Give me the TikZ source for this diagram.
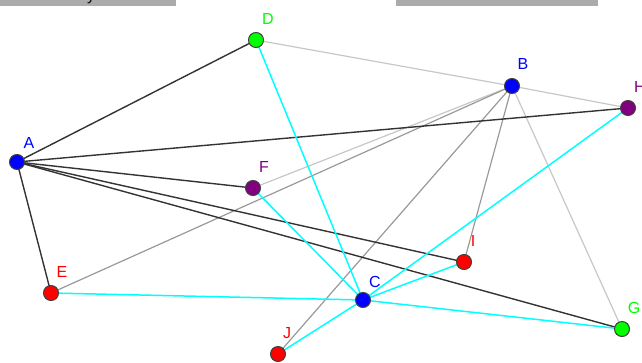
\documentclass[tikz,border=0pt]{standalone}
\usepackage{fontspec}
\setmainfont{Liberation Sans}
\begin{document}
\begin{tikzpicture}[x=1pt,y=-1pt,
  pt/.style={circle,draw=black!75,line width=1pt,inner sep=0pt,minimum size=15pt},
  lab/.style={font=\fontsize{16}{16}\selectfont,inner sep=0pt},
  blk/.style={draw=black!80,line width=1.4pt},
  cyn/.style={draw=cyanx,line width=1.5pt},
  gra/.style={draw=black!40,line width=1.2pt},
  lgr/.style={draw=black!22,line width=1.2pt}]
\definecolor{cyanx}{RGB}{0,255,255}
\definecolor{pur}{RGB}{128,0,128}
\definecolor{grn}{RGB}{0,255,0}
\useasboundingbox (0,0) rectangle (642,362);
% top bars
\fill[black!33] (0,0) rectangle (176,6);
\fill[black!33] (396,0) rectangle (598,6);
\begin{scope}
\clip (0,0) rectangle (176,6);
\node[lab,text=black,anchor=base] (ytxt) at (91,0) {y};
\end{scope}
% coordinates
\coordinate (A) at (17,162);
\coordinate (D) at (256,40);
\coordinate (B) at (512,86);
\coordinate (H) at (628,108);
\coordinate (F) at (253,188);
\coordinate (E) at (51,293);
\coordinate (I) at (464,262);
\coordinate (C) at (363,300);
\coordinate (G) at (622,329);
\coordinate (J) at (278,354);
% gray edges
\draw[lgr] (D) -- (B);
\draw[lgr] (B) -- (H);
\draw[lgr] (B) -- (F);
\draw[lgr] (B) -- (G);
\draw[gra] (B) -- (E);
\draw[gra] (B) -- (J);
\draw[gra] (B) -- (I);
% black edges
\draw[blk] (A) -- (D);
\draw[blk] (A) -- (H);
\draw[blk] (A) -- (F);
\draw[blk] (A) -- (I);
\draw[blk] (A) -- (G);
\draw[blk] (A) -- (E);
% cyan edges
\draw[cyn] (D) -- (C);
\draw[cyn] (H) -- (C);
\draw[cyn] (F) -- (C);
\draw[cyn] (E) -- (C);
\draw[cyn] (C) -- (G);
\draw[cyn] (C) -- (I);
\draw[cyn] (C) -- (J);
% points
\node[pt,fill=blue] (nA) at (A) {};
\node[pt,fill=grn] (nD) at (D) {};
\node[pt,fill=blue] (nB) at (B) {};
\node[pt,fill=pur] (nH) at (H) {};
\node[pt,fill=pur] (nF) at (F) {};
\node[pt,fill=red] (nE) at (E) {};
\node[pt,fill=red] (nI) at (I) {};
\node[pt,fill=blue] (nC) at (C) {};
\node[pt,fill=grn] (nG) at (G) {};
\node[pt,fill=red] (nJ) at (J) {};
% labels
\node[lab,text=blue] (lA) at (29,143) {A};
\node[lab,text=grn] (lD) at (268,19) {D};
\node[lab,text=blue] (lB) at (523,64) {B};
\node[lab,text=pur] (lH) at (640,87) {H};
\node[lab,text=pur] (lF) at (264,167) {F};
\node[lab,text=red] (lE) at (62,272) {E};
\node[lab,text=red] (lI) at (473,241) {I};
\node[lab,text=blue] (lC) at (375,282) {C};
\node[lab,text=red] (lJ) at (287,333) {J};
\node[lab,text=grn] (lG) at (634,308) {G};
\end{tikzpicture}
\end{document}
